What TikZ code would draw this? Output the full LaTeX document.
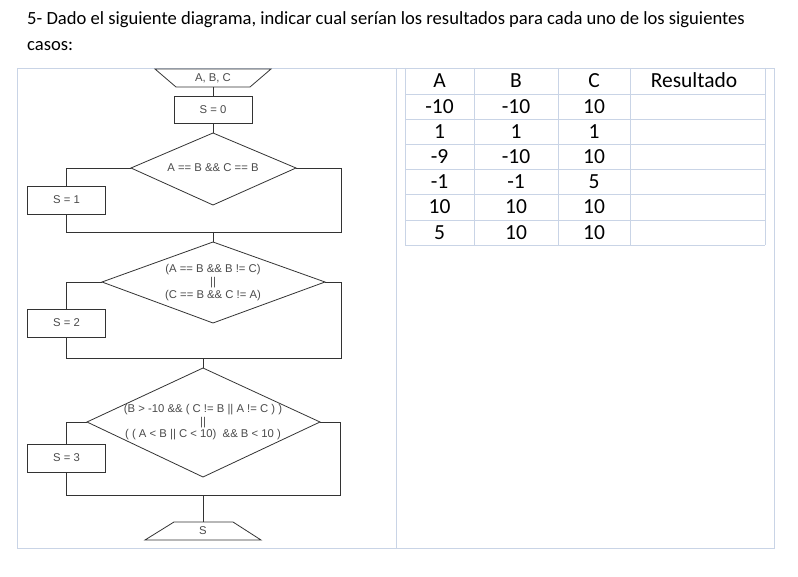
\documentclass[tikz,border=0pt]{standalone}
\usepackage{fontspec}
\setmainfont{Carlito}
\newfontfamily\arialf{Liberation Sans}
\definecolor{framec}{HTML}{C9D4E6}
\definecolor{linec}{HTML}{333333}
\definecolor{flt}{HTML}{4A4A4A}
\begin{document}
\begin{tikzpicture}[x=1pt,y=-1pt,
  frame/.style={draw=framec, line width=0.9pt},
  fl/.style={draw=linec, line width=0.8pt},
  fltext/.style={font=\arialf\fontsize{11.3}{12.6}\selectfont, text=flt, inner sep=0pt},
  pbox/.style={fl, fltext, minimum width=78pt, minimum height=28pt},
  tt/.style={font=\fontsize{21.5}{24}\selectfont, anchor=base, inner sep=0pt},
  title/.style={font=\fontsize{18.6}{22}\selectfont, anchor=base west, inner sep=0pt}
]
\useasboundingbox (0,0) rectangle (798,577);
\fill[white] (0,0) rectangle (798,577);

% heading
\node[title] (t1) at (27,25) {5- Dado el siguiente diagrama, indicar cual serían los resultados para cada uno de los siguientes};
\node[title] (t2) at (27,51) {casos:};

% frame
\draw[frame] (17.5,68) rectangle (774,548);
\draw[frame] (396.5,68) -- (396.5,548);

% table
\foreach \y in {68,94,119,144,169,194,220,245} \draw[frame] (405,\y) -- (765,\y);
\foreach \x in {405,474,558,630,765} \draw[frame] (\x,68) -- (\x,245);
\node[tt] (hA) at (439.5,88) {A};
\node[tt] (hB) at (516,88) {B};
\node[tt] (hC) at (594,88) {C};
\node[tt] (hR) at (694,88) {Resultado};
\foreach \a/\b/\c [count=\i] in {-10/-10/10, 1/1/1, -9/-10/10, -1/-1/5, 10/10/10, 5/10/10}{
  \pgfmathsetmacro{\yy}{88+25.2*\i}
  \node[tt] (a\i) at (439.5,\yy) {\a};
  \node[tt] (b\i) at (516,\yy) {\b};
  \node[tt] (c\i) at (594,\yy) {\c};
}

% input
\draw[fl] (155,69) -- (271,69) -- (250,87) -- (176,87) -- cycle;
\node[fltext] (in) at (213,78) {A, B, C};
\coordinate (inb) at (213,87);
\node[pbox, minimum height=27pt] (s0) at (213,109.5) {S = 0};
\draw[fl] (inb) -- (s0.north);

% diamond 1
\coordinate (d1t) at (213,133); \coordinate (d1l) at (131,168);
\coordinate (d1r) at (296,168); \coordinate (d1b) at (213,205);
\draw[fl] (d1t) -- (d1r) -- (d1b) -- (d1l) -- cycle;
\node[fltext] (d1) at (213,168) {A == B \&\& C == B};
\draw[fl] (s0.south) -- (d1t);
\node[pbox] (s1) at (66.5,200) {S = 1};
\coordinate (j1) at (213,232);
\draw[fl] (d1l) -| (s1.north);
\draw[fl] (s1.south) |- (341,232) |- (d1r);

% diamond 2
\coordinate (d2t) at (213,242); \coordinate (d2l) at (102,282);
\coordinate (d2r) at (325,282); \coordinate (d2b) at (213,323);
\draw[fl] (d2t) -- (d2r) -- (d2b) -- (d2l) -- cycle;
\node[fltext, align=center] (d2) at (213,282.5) {(A == B \&\& B != C)\\||\\(C == B \&\& C != A)};
\draw[fl] (j1) -- (d2t);
\node[pbox] (s2) at (66.5,323) {S = 2};
\draw[fl] (d2l) -| (s2.north);
\draw[fl] (s2.south) |- (341,358) |- (d2r);
\coordinate (j2) at (203,358);

% diamond 3
\coordinate (d3t) at (203,368); \coordinate (d3l) at (87,422);
\coordinate (d3r) at (320,422); \coordinate (d3b) at (203,477);
\draw[fl] (d3t) -- (d3r) -- (d3b) -- (d3l) -- cycle;
\node[fltext, align=center] (d3) at (203,422.5) {(B > -10 \&\& ( C != B || A != C ) )\\||\\( ( A < B || C < 10)\ \ \&\& B < 10 )};
\draw[fl] (j2) -- (d3t);
\node[pbox] (s3) at (66.5,458) {S = 3};
\draw[fl] (d3l) -| (s3.north);
\draw[fl] (s3.south) |- (340,495) |- (d3r);
\coordinate (j3) at (203,495);

% output
\draw[fl] (174,522) -- (233,522) -- (261,540) -- (145,540) -- cycle;
\coordinate (outt) at (203,522);
\node[fltext] (out) at (203,531) {S};
\draw[fl] (j3) -- (outt);
\end{tikzpicture}
\end{document}
